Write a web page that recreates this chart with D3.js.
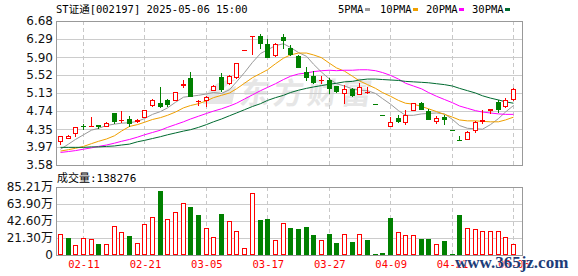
<!DOCTYPE html>
<html><head><meta charset="utf-8">
<script src="https://cdn.jsdelivr.net/npm/d3@7"></script>
<style>html,body{margin:0;padding:0;background:#fff;}svg{display:block;}</style>
</head><body><svg id="c" width="578" height="276"></svg>
<script>
const dates = ["02-06","02-07","02-10","02-11","02-12","02-13","02-14","02-17","02-18","02-19","02-20","02-21","02-24","02-25","02-26","02-27","02-28","03-03","03-04","03-05","03-06","03-07","03-10","03-11","03-12","03-13","03-14","03-17","03-18","03-19","03-20","03-21","03-24","03-25","03-26","03-27","03-28","03-31","04-01","04-02","04-03","04-07","04-08","04-09","04-10","04-11","04-14","04-15","04-16","04-17","04-18","04-21","04-22","04-23","04-24","04-25","04-28","04-29","04-30","05-06"];
const open  = [4.10,4.17,4.26,4.43,4.42,4.44,4.42,4.69,4.54,4.58, 4.53,4.62,4.87,4.91,4.97,4.99,5.31,5.45,4.95,4.97, 5.20,5.47,5.34,5.47,6.06,6.36,6.36,6.19,5.94,6.33, 6.10,5.93,5.59,5.50,5.40,5.42,5.27,5.14,5.21,5.11, 5.15,4.90,4.66,4.43,4.59,4.51,4.76,4.91,4.74,4.52, 4.61,4.33,4.11,4.15,4.33,4.53,4.77,4.94,4.84,5.01];
const high  = [4.21,4.22,4.40,4.46,4.61,4.45,4.50,4.70,4.74,4.63, 4.58,4.77,5.00,5.25,5.01,5.16,5.40,5.59,4.99,5.06, 5.30,5.55,5.51,5.78,6.06,6.36,6.41,6.29,6.20,6.39, 6.16,5.94,5.68,5.61,5.50,5.45,5.28,5.30,5.24,5.35, 5.25,4.90,4.66,4.61,4.66,4.76,4.92,4.94,4.78,4.63, 4.66,4.33,4.20,4.31,4.52,4.76,4.78,4.98,5.02,5.23];
const low   = [4.03,4.16,4.21,4.35,4.42,4.38,4.42,4.49,4.50,4.41, 4.50,4.61,4.86,4.82,4.84,4.99,5.25,5.06,4.88,4.86, 5.19,5.18,5.33,5.46,6.06,5.98,6.10,5.91,5.93,6.09, 5.94,5.68,5.40,5.34,5.35,5.14,5.16,4.91,5.07,5.10, 5.12,4.90,4.66,4.42,4.51,4.46,4.76,4.78,4.56,4.48, 4.46,4.33,4.11,4.15,4.28,4.49,4.71,4.72,4.82,4.97];
const close = [4.21,4.20,4.39,4.42,4.43,4.42,4.48,4.53,4.55,4.49, 4.55,4.76,4.99,4.85,4.89,5.15,5.33,5.07,4.96,5.05, 5.29,5.22,5.50,5.77,6.06,6.36,6.20,5.91,6.19,6.27, 5.97,5.68,5.48,5.37,5.41,5.23,5.17,5.22,5.09,5.25, 5.16,4.90,4.66,4.51,4.53,4.66,4.91,4.79,4.56,4.59, 4.56,4.33,4.11,4.30,4.51,4.54,4.78,4.79,4.98,5.21];
const ma5  = [3.92,4.03,4.13,4.23,4.33,4.37,4.43,4.46,4.48,4.49, 4.52,4.58,4.67,4.73,4.81,4.93,5.04,5.06,5.08,5.11, 5.14,5.12,5.20,5.37,5.57,5.79,5.98,6.06,6.15,6.19, 6.11,6.00,5.92,5.75,5.58,5.43,5.33,5.28,5.22,5.19, 5.18,5.12,5.01,4.89,4.75,4.65,4.65,4.68,4.69,4.70, 4.68,4.56,4.43,4.37,4.36,4.35,4.45,4.58,4.72,4.86];
const ma10 = [3.88,3.91,3.94,3.98,4.04,4.09,4.14,4.21,4.31,4.41, 4.45,4.50,4.56,4.60,4.65,4.72,4.81,4.86,4.90,4.96, 5.03,5.08,5.13,5.22,5.34,5.46,5.55,5.63,5.76,5.88, 5.95,5.99,5.99,5.95,5.89,5.77,5.67,5.60,5.49,5.39, 5.31,5.23,5.14,5.06,4.97,4.91,4.89,4.84,4.79,4.73, 4.67,4.61,4.55,4.53,4.53,4.52,4.51,4.51,4.55,4.61];
const ma20 = [3.85,3.87,3.89,3.92,3.95,3.98,4.01,4.05,4.09,4.13, 4.18,4.23,4.28,4.33,4.39,4.45,4.51,4.57,4.63,4.69, 4.74,4.79,4.85,4.91,5.00,5.09,5.18,5.25,5.33,5.42, 5.49,5.54,5.56,5.59,5.61,5.62,5.61,5.62,5.62,5.63, 5.63,5.61,5.57,5.51,5.43,5.34,5.28,5.22,5.14,5.06, 4.99,4.92,4.85,4.80,4.75,4.72,4.70,4.68,4.67,4.67];
const ma30 = [3.96,3.96,3.96,3.96,3.97,3.97,3.98,3.99,4.01,4.03, 4.08,4.11,4.15,4.19,4.23,4.27,4.31,4.34,4.39,4.45, 4.51,4.57,4.64,4.70,4.77,4.84,4.90,4.97,5.03,5.08, 5.14,5.19,5.23,5.26,5.29,5.32,5.34,5.37,5.38,5.41, 5.43,5.43,5.42,5.41,5.40,5.38,5.37,5.36,5.35,5.33, 5.31,5.28,5.23,5.18,5.13,5.07,5.02,4.98,4.94,4.91];
const volume = [26.3,21.3,12.5,20.9,19.6,13.8,13.8,36.0,28.8,23.8, 15.0,38.8,47.2,80.2,44.7,53.5,65.2,60.1,50.1,33.4, 22.2,51.4,42.2,30.1,8.4,77.3,43.9,45.1,18.8,39.7, 33.8,32.6,35.1,25.1,18.8,26.3,15.0,26.3,16.3,26.3, 18.8,1.3,2.1,46.4,28.8,24.6,24.6,20.0,20.0,13.4, 17.5,1.3,50.1,33.4,32.2,30.1,30.1,30.1,22.2,13.8];
const priceTicks = [6.68,6.29,5.90,5.52,5.13,4.74,4.35,3.97,3.58];
const volTicks = [85.21,63.90,42.60,21.30,0];
const volTickLabels = ["85.21万","63.90万","42.60万","21.30万","0"];
const xTickLabels = ["02-11","02-21","03-05","03-17","03-27","04-09","04-21","05-06"];
const maNames = ["5PMA","10PMA","20PMA","30PMA"];
const title = "ST证通[002197] 2025-05-06 15:00";
const volTitle = "成交量:138276";

const RED = "#ff0000", GREEN = "#008000";
const maColors = ["#999999","#f0a000","#ff00ff","#006a30"];
const L = 56, R = 522, PT = 21, PB = 165, VT = 187, VB = 255;
const svg = d3.select("#c");
svg.append("rect").attr("width",578).attr("height",276).attr("fill","#fff");

const x = d3.scaleBand().domain(d3.range(dates.length)).range([L, L + dates.length*7.68]);
const cx = i => Math.round(x(i) + x.bandwidth()/2);
const y = d3.scaleLinear().domain([3.58, 6.68]).range([PB, PT]);
const yv = d3.scaleLinear().domain([0, 85.21]).range([VB, VT]);
const cr = v => Math.round(v) + 0.5;

// watermark
const wm = svg.append("g").attr("fill","#e6e6e6");
wm.append("path").attr("d","M203,104 C206,88 220,78 236,80 C226,84 218,92 216,104 Z M214,104 C218,94 226,88 236,86 L232,104 Z");
wm.append("text").attr("x",240).attr("y",104).attr("font-family","Noto Sans CJK SC").attr("font-weight","bold")
  .attr("font-size",30).attr("letter-spacing",4).attr("transform","skewX(-8) translate(13,0)").text("东方财富");

// horizontal grids
const g = svg.append("g");
g.selectAll("line.pg").data(priceTicks.slice(1,-1)).join("line")
  .attr("x1",L).attr("x2",R).attr("y1",d=>cr(y(d))-0).attr("y2",d=>cr(y(d))).attr("stroke","#cccccc");
g.selectAll("line.vg").data(volTicks.slice(1,-1)).join("line")
  .attr("x1",L).attr("x2",R).attr("y1",d=>cr(yv(d))).attr("y2",d=>cr(yv(d))).attr("stroke","#cccccc");
// vertical dashed
const tickIdx = xTickLabels.map(t => dates.indexOf(t));
tickIdx.forEach(i => {
  [[PT,PB],[VT,VB]].forEach(([a,b]) => g.append("line").attr("x1",cx(i)+0.5).attr("x2",cx(i)+0.5)
    .attr("y1",a).attr("y2",b).attr("stroke","#c8c8c8").attr("stroke-dasharray","4,3"));
});
// frames
[[PT,PB],[VT,VB]].forEach(([a,b]) => g.append("rect").attr("x",L+0.5).attr("y",Math.round(a)+0.5)
  .attr("width",R-L).attr("height",b-a).attr("fill","none").attr("stroke","#999"));

// MA lines
[ma5,ma10,ma20,ma30].forEach((arr,k) => {
  svg.append("path").datum(arr).attr("fill","none").attr("stroke",maColors[k]).attr("stroke-width",1)
    .attr("d", d3.line().x((d,i)=>cx(i)+0.5).y(d=>y(d)));
});

// candles
const isUp = i => close[i] > open[i] ? true : close[i] < open[i] ? false : (i===0 || close[i] >= close[i-1]);
const cg = svg.append("g");
dates.forEach((d,i) => {
  const c = cx(i), up = isUp(i), col = up ? RED : GREEN;
  const yo = y(open[i]), yc = y(close[i]), yh = y(high[i]), yl = y(low[i]);
  const top = Math.round(Math.min(yo,yc)), bot = Math.round(Math.max(yo,yc));
  cg.append("line").attr("x1",c+0.5).attr("x2",c+0.5).attr("y1",Math.round(yh)).attr("y2",Math.round(yl)+1).attr("stroke",col);
  if (bot - top < 1) {
    cg.append("line").attr("x1",c-2).attr("x2",c+3).attr("y1",top+0.5).attr("y2",top+0.5).attr("stroke",col);
  } else if (up) {
    cg.append("rect").attr("x",c-2+0.5).attr("y",top+0.5).attr("width",4).attr("height",bot-top)
      .attr("fill","#fff").attr("stroke",col);
  } else {
    cg.append("rect").attr("x",c-2).attr("y",top).attr("width",5).attr("height",bot-top+1).attr("fill",col);
  }
});

// volume bars
const vg = svg.append("g");
volume.forEach((v,i) => {
  const c = cx(i), up = i===0 || close[i] >= close[i-1];
  const t = Math.round(yv(v));
  if (up) vg.append("rect").attr("x",c-2+0.5).attr("y",t+0.5).attr("width",4).attr("height",Math.max(VB-t-1,0)).attr("fill","#fff").attr("stroke",RED);
  else vg.append("rect").attr("x",c-2).attr("y",t).attr("width",5).attr("height",VB-t).attr("fill",GREEN);
});

// axes labels
const ya = d3.axisLeft(y).tickValues(priceTicks).tickSize(0).tickPadding(3).tickFormat(d3.format(".2f"));
svg.append("g").attr("transform",`translate(${L},0)`).call(ya)
  .call(s=>s.select(".domain").remove())
  .call(s=>s.selectAll("text").attr("font-family","DejaVu Sans").attr("font-size",12).attr("fill","#111"));
const va = d3.axisLeft(yv).tickValues(volTicks).tickSize(0).tickPadding(3).tickFormat((d,i)=>volTickLabels[i]);
svg.append("g").attr("transform",`translate(${L},0)`).call(va)
  .call(s=>s.select(".domain").remove())
  .call(s=>s.selectAll("text").attr("font-family","DejaVu Sans, Noto Sans CJK SC").attr("font-size",12).attr("fill","#111"));
const xa = d3.axisBottom(d3.scalePoint().domain(xTickLabels).range([cx(tickIdx[0])+0.5, cx(tickIdx[tickIdx.length-1])+0.5]))
  .tickSize(0).tickPadding(0);
svg.append("g").attr("transform",`translate(0,261)`).call(xa)
  .call(s=>s.select(".domain").remove())
  .call(s=>s.selectAll("text").attr("font-family","DejaVu Sans Mono").attr("font-size",10.5).attr("fill",RED));

// title, legend
const mono = "DejaVu Sans Mono, Noto Sans CJK SC";
svg.append("text").attr("x",56).attr("y",13).attr("font-family",mono).attr("font-size",10.5).attr("fill","#000").text(title);
const legX = [338,380,426,472], sqX = [365,413,459,505];
maNames.forEach((n,k) => {
  svg.append("text").attr("x",legX[k]).attr("y",13).attr("font-family",mono).attr("font-size",10.5).attr("fill","#000").text(n);
  svg.append("rect").attr("x",sqX[k]).attr("y",8).attr("width",5).attr("height",3).attr("fill",maColors[k]);
});
svg.append("text").attr("x",57).attr("y",182).attr("font-family",mono).attr("font-size",11).attr("fill","#000").text(volTitle);

// site watermark
svg.append("text").attr("x",455).attr("y",268).attr("font-family","Liberation Serif").attr("font-weight","bold")
  .attr("font-size",17).attr("fill","#1d3c78").attr("stroke","#fff").attr("stroke-width",0.6).attr("paint-order","stroke").text("www.365jz.com");
</script></body></html>
